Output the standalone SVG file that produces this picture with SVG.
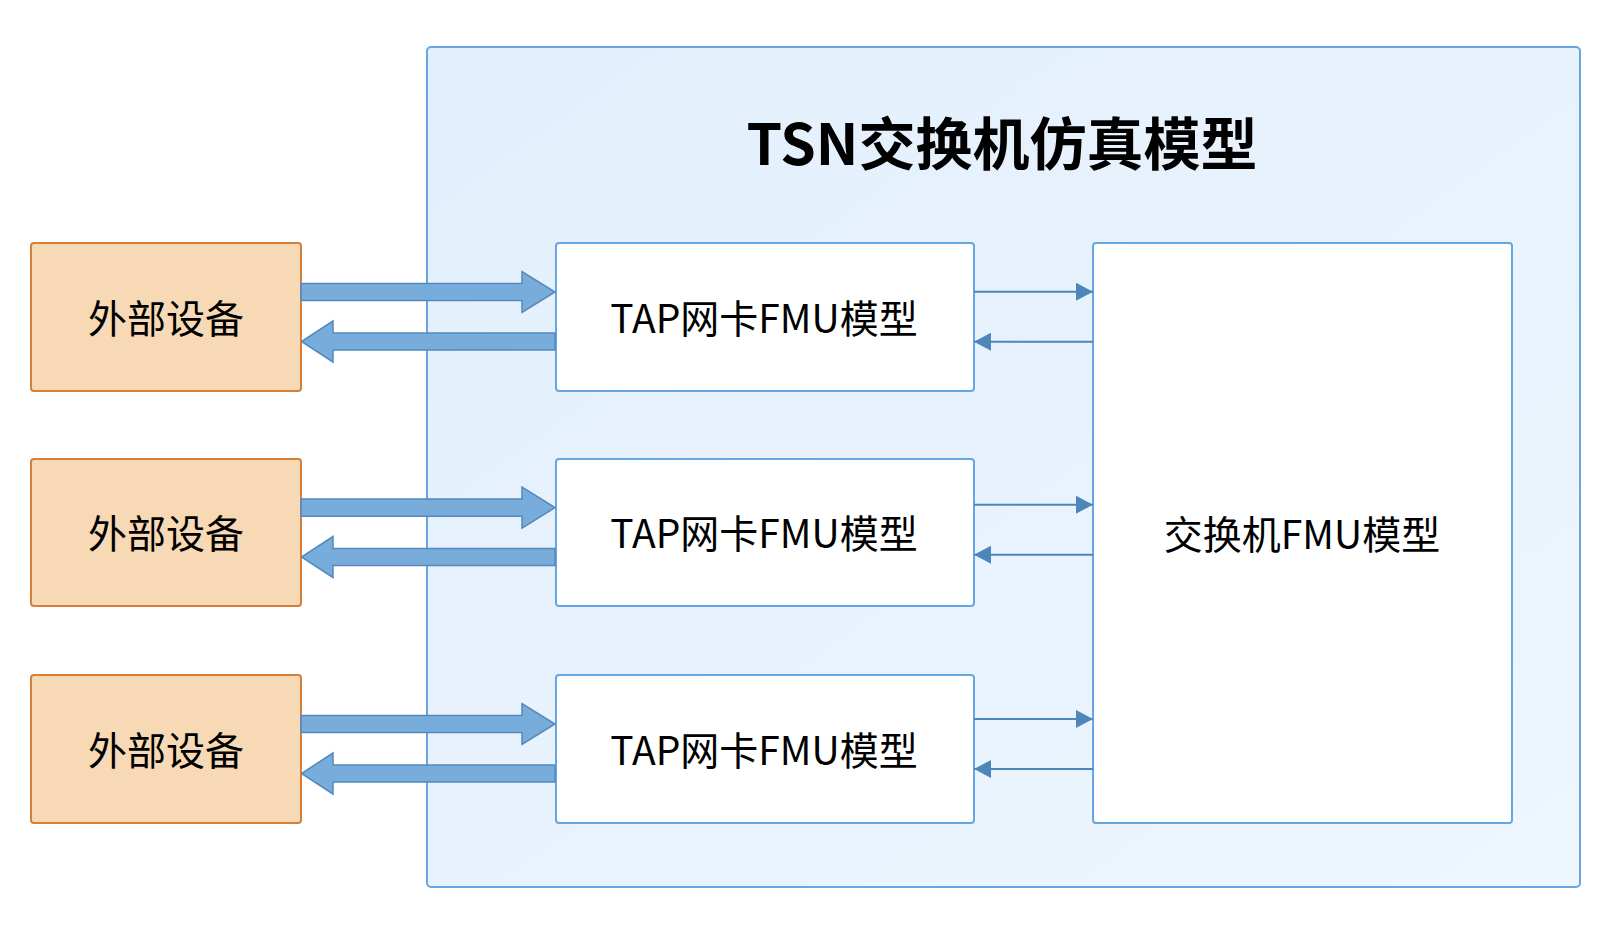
<svg xmlns="http://www.w3.org/2000/svg" width="1616" height="926" viewBox="0 0 1616 926">
  <defs>
    <linearGradient id="bg" x1="0" y1="0" x2="1" y2="1">
      <stop offset="0" stop-color="#e2effc"/>
      <stop offset="1" stop-color="#eef6fe"/>
    </linearGradient>
    <marker id="ah" markerWidth="17" markerHeight="18" refX="17" refY="9" orient="auto" markerUnits="userSpaceOnUse">
      <path d="M0,0 L17,9 L0,18 z" fill="#4d86b8"/>
    </marker>
    <style>
      .ext { fill: #f7dab5; stroke: #d4803a; stroke-width: 2; }
      .blk { fill: #ffffff; stroke: #66a6e4; stroke-width: 2; }
      .lbl { font-family: "Noto Sans CJK SC", "Noto Sans", sans-serif; font-size: 39px; fill: #000000; text-anchor: middle; }
      .ttl { font-family: "Noto Sans CJK SC", "Noto Sans", sans-serif; font-size: 57px; font-weight: bold; fill: #000000; text-anchor: middle; }
      .big { fill: #77acdb; stroke: #5389bd; stroke-width: 1.5; stroke-linejoin: miter; }
      .sm { stroke: #4d86b8; stroke-width: 2; fill: none; marker-end: url(#ah); }
    </style>
  </defs>

  <g id="container">
    <rect x="427" y="47" width="1153" height="840" rx="4" fill="url(#bg)" stroke="#66a6e4" stroke-width="2"/>
    <text class="ttl" x="1002" y="165">TSN交换机仿真模型</text>
  </g>

  <g id="ext1">
    <rect class="ext" x="31" y="243" width="270" height="148" rx="3"/>
    <text class="lbl" x="166" y="333">外部设备</text>
  </g>
  <g id="ext2">
    <rect class="ext" x="31" y="459" width="270" height="147" rx="3"/>
    <text class="lbl" x="166" y="548">外部设备</text>
  </g>
  <g id="ext3">
    <rect class="ext" x="31" y="675" width="270" height="148" rx="3"/>
    <text class="lbl" x="166" y="765">外部设备</text>
  </g>

  <g id="tap1">
    <rect class="blk" x="556" y="243" width="418" height="148" rx="3"/>
    <text class="lbl" x="764" y="333">TAP网卡FMU模型</text>
  </g>
  <g id="tap2">
    <rect class="blk" x="556" y="459" width="418" height="147" rx="3"/>
    <text class="lbl" x="764" y="548">TAP网卡FMU模型</text>
  </g>
  <g id="tap3">
    <rect class="blk" x="556" y="675" width="418" height="148" rx="3"/>
    <text class="lbl" x="764" y="765">TAP网卡FMU模型</text>
  </g>

  <g id="switch">
    <rect class="blk" x="1093" y="243" width="419" height="580" rx="3"/>
    <text class="lbl" x="1302" y="549">交换机FMU模型</text>
  </g>

  <g id="connectors">
    <polygon class="big" points="301,283.5 522,283.5 522,271.5 555,292 522,312.5 522,300.5 301,300.5"/>
    <polygon class="big" points="555,333 333,333 333,321 301.5,341.5 333,362 333,350 555,350"/>
    <polygon class="big" points="301,499 522,499 522,487 555,507.6 522,528.2 522,516.2 301,516.2"/>
    <polygon class="big" points="555,548.5 333,548.5 333,536.5 301.5,557 333,577.5 333,565.5 555,565.5"/>
    <polygon class="big" points="301,715.5 522,715.5 522,703.5 555,724 522,744.5 522,732.5 301,732.5"/>
    <polygon class="big" points="555,765 333,765 333,753 301.5,773.5 333,794 333,782 555,782"/>

    <line class="sm" x1="974" y1="291.7" x2="1093" y2="291.7"/>
    <line class="sm" x1="1093" y1="341.7" x2="974" y2="341.7"/>
    <line class="sm" x1="974" y1="504.7" x2="1093" y2="504.7"/>
    <line class="sm" x1="1093" y1="554.7" x2="974" y2="554.7"/>
    <line class="sm" x1="974" y1="719" x2="1093" y2="719"/>
    <line class="sm" x1="1093" y1="769" x2="974" y2="769"/>
  </g>
</svg>
